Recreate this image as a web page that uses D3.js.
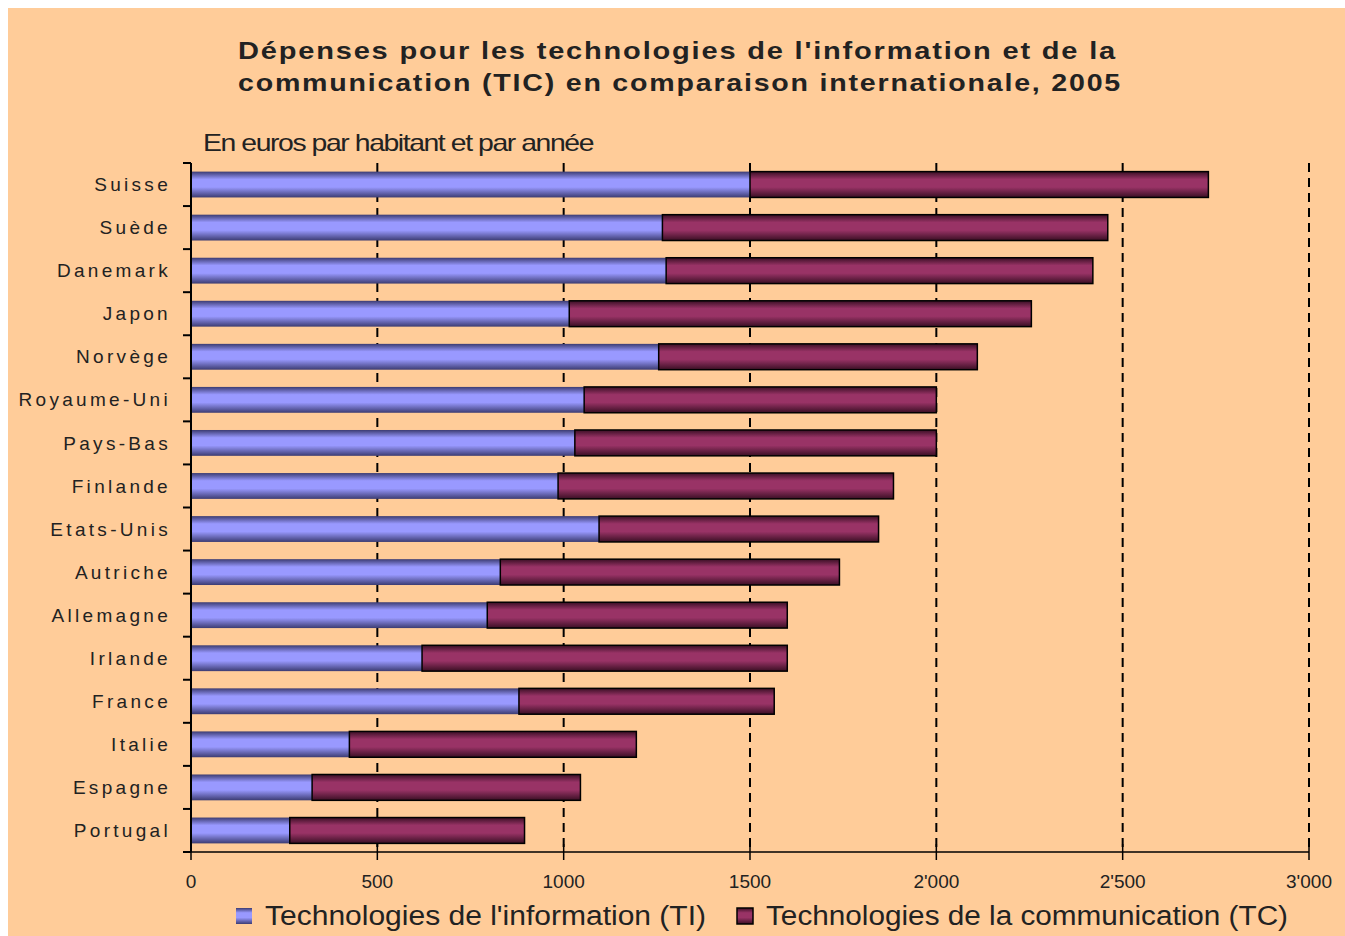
<!DOCTYPE html>
<html>
<head>
<meta charset="utf-8">
<script src="https://cdn.jsdelivr.net/npm/d3@7"></script>
<style>
  body { margin: 0; background: #fff; }
  svg { display: block; }
</style>
</head>
<body>
<div id="chart"></div>
<script>
// Data (euros par habitant, 2005)
const countries = ['Suisse', 'Suède', 'Danemark', 'Japon', 'Norvège', 'Royaume-Uni', 'Pays-Bas',
  'Finlande', 'Etats-Unis', 'Autriche', 'Allemagne', 'Irlande', 'France', 'Italie', 'Espagne', 'Portugal'];
const tiValues = [1500, 1265, 1275, 1015, 1255, 1055, 1030, 985, 1095, 830, 795, 620, 880, 425, 325, 265];
const tcValues = [1230, 1195, 1145, 1240, 855, 945, 970, 900, 750, 910, 805, 980, 685, 770, 720, 630];
const xTicks = [0, 500, 1000, 1500, 2000, 2500, 3000];
const xTickLabels = ['0', '500', '1000', '1500', "2'000", "2'500", "3'000"];
const seriesNames = ["Technologies de l'information (TI)", 'Technologies de la communication (TC)'];
const titleLines = ["Dépenses pour les technologies de l'information et de la",
  'communication (TIC) en comparaison internationale, 2005'];
const subtitle = 'En euros par habitant et par année';

const width = 1345;
const height = 936;
const margin = { top: 163, right: 36, bottom: 84, left: 191 };

const svg = d3.select('#chart').append('svg')
  .attr('width', width)
  .attr('height', height);

// gradients for the "cylinder" look
const defs = svg.append('defs');
function addGradient(id, edge, mid) {
  const g = defs.append('linearGradient').attr('id', id)
    .attr('x1', 0).attr('y1', 0).attr('x2', 0).attr('y2', 1);
  g.append('stop').attr('offset', '0%').attr('stop-color', edge);
  g.append('stop').attr('offset', '30%').attr('stop-color', mid);
  g.append('stop').attr('offset', '60%').attr('stop-color', mid);
  g.append('stop').attr('offset', '100%').attr('stop-color', edge);
}
addGradient('gradTI', '#3c3c72', '#9999ff');
addGradient('gradTC', '#3a0f24', '#993366');

// background
svg.append('rect')
  .attr('x', 8).attr('y', 8)
  .attr('width', width - 8).attr('height', height - 8)
  .attr('fill', '#ffcc99');

const x = d3.scaleLinear()
  .domain([0, 3000])
  .range([margin.left, width - margin.right]);

const y = d3.scaleBand()
  .domain(countries)
  .range([margin.top, height - margin.bottom])
  .paddingInner(0.4)
  .paddingOuter(0.2);

const bottom = height - margin.bottom;

// dashed gridlines
svg.append('g')
  .selectAll('line')
  .data(xTicks.slice(1))
  .join('line')
  .attr('x1', d => x(d)).attr('x2', d => x(d))
  .attr('y1', margin.top).attr('y2', bottom)
  .attr('stroke', '#000')
  .attr('stroke-width', 2)
  .attr('stroke-dasharray', '9,6');

// stacked bars
const rows = countries.map((c, i) => ({ country: c, ti: tiValues[i], tc: tcValues[i] }));
const bars = svg.append('g');

bars.selectAll('rect.ti')
  .data(rows)
  .join('rect')
  .attr('class', 'ti')
  .attr('x', x(0))
  .attr('y', d => y(d.country))
  .attr('width', d => x(d.ti) - x(0))
  .attr('height', y.bandwidth())
  .attr('fill', 'url(#gradTI)');

bars.selectAll('rect.tc')
  .data(rows)
  .join('rect')
  .attr('class', 'tc')
  .attr('x', d => x(d.ti))
  .attr('y', d => y(d.country))
  .attr('width', d => x(d.ti + d.tc) - x(d.ti))
  .attr('height', y.bandwidth())
  .attr('fill', 'url(#gradTC)')
  .attr('stroke', '#000')
  .attr('stroke-width', 1.5);

// y axis: line plus ticks at band boundaries
const yAxis = svg.append('g');
yAxis.append('line')
  .attr('x1', margin.left).attr('x2', margin.left)
  .attr('y1', margin.top).attr('y2', bottom)
  .attr('stroke', '#000').attr('stroke-width', 2);
const step = y.step();
yAxis.selectAll('line.tick')
  .data(d3.range(countries.length + 1))
  .join('line')
  .attr('class', 'tick')
  .attr('x1', margin.left - 8).attr('x2', margin.left)
  .attr('y1', i => margin.top + i * step)
  .attr('y2', i => margin.top + i * step)
  .attr('stroke', '#000').attr('stroke-width', 2);

yAxis.selectAll('text')
  .data(countries)
  .join('text')
  .attr('x', margin.left - 20)
  .attr('y', d => y(d) + y.bandwidth() / 2)
  .attr('dy', '0.35em')
  .attr('text-anchor', 'end')
  .attr('font-family', 'Liberation Sans, Arial, sans-serif')
  .attr('font-size', 19)
  .attr('letter-spacing', 3.3)
  .attr('fill', '#222')
  .text(d => d);

// x axis
const xAxis = svg.append('g');
xAxis.append('line')
  .attr('x1', x(0)).attr('x2', x(3000))
  .attr('y1', bottom).attr('y2', bottom)
  .attr('stroke', '#000').attr('stroke-width', 1.5);
xAxis.selectAll('line.tick')
  .data(xTicks)
  .join('line')
  .attr('class', 'tick')
  .attr('x1', d => x(d)).attr('x2', d => x(d))
  .attr('y1', bottom - 8).attr('y2', bottom + 8)
  .attr('stroke', '#000').attr('stroke-width', 1.5);
xAxis.selectAll('text')
  .data(xTicks)
  .join('text')
  .attr('x', d => x(d))
  .attr('y', bottom + 36)
  .attr('text-anchor', 'middle')
  .attr('font-family', 'Liberation Sans, Arial, sans-serif')
  .attr('font-size', 19)
  .attr('fill', '#222')
  .text((d, i) => xTickLabels[i]);

// title
const titleLengths = [879, 884];
svg.append('g').selectAll('text')
  .data(titleLines)
  .join('text')
  .attr('x', 238)
  .attr('y', (d, i) => 59 + i * 32)
  .attr('font-family', 'Liberation Sans, Arial, sans-serif')
  .attr('font-weight', 'bold')
  .attr('font-size', 24)
  .attr('letter-spacing', 1.5)
  .attr('textLength', (d, i) => titleLengths[i])
  .attr('lengthAdjust', 'spacingAndGlyphs')
  .attr('fill', '#222')
  .text(d => d);

// subtitle
svg.append('text')
  .attr('x', 203)
  .attr('y', 151)
  .attr('font-family', 'Liberation Sans, Arial, sans-serif')
  .attr('font-size', 24)
  .attr('letter-spacing', -1.2)
  .attr('textLength', 390)
  .attr('lengthAdjust', 'spacingAndGlyphs')
  .attr('fill', '#222')
  .text(subtitle);

// legend
const legendX = [236, 737];
const legendTextLen = [441, 522];
const legendFills = ['url(#gradTI)', 'url(#gradTC)'];
const legend = svg.append('g');
legend.selectAll('rect')
  .data(seriesNames)
  .join('rect')
  .attr('x', (d, i) => legendX[i])
  .attr('y', 908)
  .attr('width', 16).attr('height', 16)
  .attr('fill', (d, i) => legendFills[i])
  .attr('stroke', (d, i) => i === 1 ? '#000' : 'none')
  .attr('stroke-width', 1.5);
legend.selectAll('text')
  .data(seriesNames)
  .join('text')
  .attr('x', (d, i) => legendX[i] + 29)
  .attr('y', 925)
  .attr('font-family', 'Liberation Sans, Arial, sans-serif')
  .attr('font-size', 27)
  .attr('textLength', (d, i) => legendTextLen[i])
  .attr('lengthAdjust', 'spacingAndGlyphs')
  .attr('fill', '#222')
  .text(d => d);
</script>
</body>
</html>
